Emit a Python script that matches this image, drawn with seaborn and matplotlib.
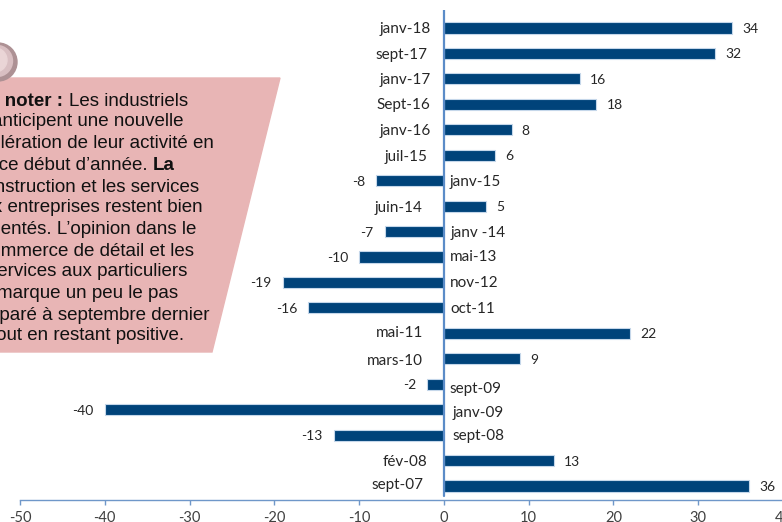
import pandas as pd
import seaborn as sb
import matplotlib.pyplot as plt
from matplotlib.patches import Polygon, Circle

W, H = 782, 522

dates = ["janv-18", "sept-17", "janv-17", "Sept-16", "janv-16", "juil-15", "janv-15", "juin-14", "janv -14", "mai-13",
         "nov-12", "oct-11", "mai-11", "mars-10", "sept-09", "janv-09", "sept-08", "fév-08", "sept-07"]
values = [34, 32, 16, 18, 8, 6, -8, 5, -7, -10, -19, -16, 22, 9, -2, -40, -13, 13, 36]
x_ticks = [-50, -40, -30, -20, -10, 0, 10, 20, 30, 40]

# hand placed date labels, px away from the zero line / px below the bar centre
label_dx = [-13, -16, -13, -14, -13, -16, 6, -21, 7, 6, 6, 6, -21, -21, 6, 9, 9, -17, -20]
label_dy = [1, 2, 1, 1, 1, 2, 1, 2, 1, 0, 1, 1, 0, 2, 5, 3, 1, 1, -1]

# note text: (text, right end in px, y centre in px)
note_lines = [("Les industriels", 188, 101), ("anticipent une nouvelle", 183, 122),
              ("accélération de leur activité en", 214, 144), ("comme en ce début d’année.", 148, 165),
              ("construction et les services", 199, 187), ("aux entreprises restent bien", 203, 208),
              ("orientés. L’opinion dans le", 196, 230), ("commerce de détail et les", 194, 251),
              ("services aux particuliers", 187, 272), ("marque un peu le pas", 178, 294),
              ("comparé à septembre dernier", 210, 315), ("tout en restant positive.", 184, 336)]

data = pd.DataFrame({"date": dates, "value": values})

sb.set_theme(style="white")
plt.rcParams['font.family'] = ['Lato', 'DejaVu Sans']
plt.rcParams['axes.unicode_minus'] = False

fig = plt.figure(figsize=(W / 100, H / 100), dpi=100)
ax = fig.add_axes([20 / W, (H - 499.5) / H, 763 / W, 489.3 / H])

sb.barplot(data=data, x="value", y="date", orient="h", color="#00437A", saturation=1, width=0.44,
           edgecolor="#C5D7EA", linewidth=0.8, ax=ax)

ax.set_xlim(-50, 40)
ax.set_ylim(18.53, -0.7)
ax.set_xlabel("")
ax.set_ylabel("")
ax.set_yticks([])
ax.set_xticks(x_ticks)
ax.tick_params(axis="x", length=3.6, width=1, color="#6F97C9", labelsize=10.5, labelcolor="#404040", pad=5, bottom=True)
for s in ["top", "left", "right"]:
    ax.spines[s].set_visible(False)
ax.spines["bottom"].set_color("#6F97C9")
ax.spines["bottom"].set_linewidth(1)
ax.plot([0, 0], [18.4, -0.7], color="#5B8CC8", lw=1.6, zorder=5)

for i, (d, v) in enumerate(zip(dates, values)):
    ha = "right" if v >= 0 else "left"
    ax.annotate(d, (0, i), xytext=(label_dx[i], -label_dy[i]), textcoords="offset pixels", ha=ha, va="center",
                fontsize=11, color="#262626")
    if v >= 0:
        ax.annotate(str(v), (v, i), xytext=(10, -1), textcoords="offset pixels", ha="left", va="center",
                    fontsize=10, color="#262626")
    else:
        ax.annotate(str(v), (v, i), xytext=(-11, -1), textcoords="offset pixels", ha="right", va="center",
                    fontsize=10, color="#262626")

# overlay in pixel coords for the note box
over = fig.add_axes([0, 0, 1, 1], zorder=10)
over.set_xlim(0, W)
over.set_ylim(H, 0)
over.axis("off")
over.add_patch(Polygon([(-5, 78), (280, 78), (212, 352), (-5, 352)], closed=True, color="#E8B5B5"))
over.add_patch(Circle((-2, 62), 19, color="#AD9194"))
over.add_patch(Circle((-3, 61), 15.5, color="#D9BFC2"))
over.add_patch(Circle((-5, 60), 12, color="#EAD5D6"))

arial = ['Liberation Sans', 'DejaVu Sans']
for txt, right, y in note_lines:
    over.text(right, y, txt, ha="right", va="center", fontsize=13.5, family=arial, color="#111111")
over.text(63, 101, "À noter :", ha="right", va="center", fontsize=13.5, family=arial, weight="bold", color="#111111")
over.text(175, 165, "La", ha="right", va="center", fontsize=13.5, family=arial, weight="bold", color="#111111")

fig.savefig("out.png", dpi=100)
